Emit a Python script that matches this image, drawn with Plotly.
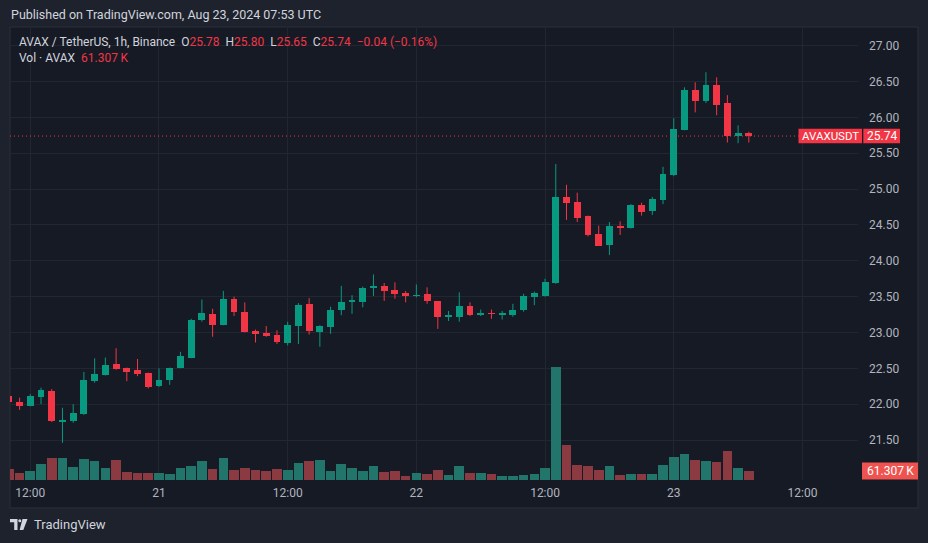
import pandas as pd
import plotly.graph_objects as go

# ---------------- data ----------------
times = pd.date_range("2024-08-20 10:00", periods=70, freq="h")

opens = [22.11, 22.03, 21.97, 22.10, 22.18, 21.76, 21.76, 21.86, 22.33, 22.41,
         22.56, 22.50, 22.47, 22.44, 22.25, 22.34, 22.51, 22.65, 23.18, 23.26,
         23.11, 23.47, 23.29, 23.02, 22.99, 22.96, 22.86, 23.09, 23.40, 23.01,
         23.08, 23.31, 23.43, 23.43, 23.62, 23.65, 23.59, 23.55, 23.51, 23.53,
         23.44, 23.22, 23.22, 23.37, 23.25, 23.27, 23.24, 23.25, 23.32, 23.50,
         23.51, 23.69, 24.89, 24.82, 24.62, 24.37, 24.22, 24.48, 24.46, 24.78,
         24.69, 24.85, 25.20, 25.83, 26.38, 26.23, 26.45, 26.20, 25.74, 25.78]
highs = [22.13, 22.09, 22.14, 22.23, 22.21, 21.95, 22.00, 22.45, 22.64, 22.65,
         22.78, 22.51, 22.63, 22.44, 22.50, 22.51, 22.73, 23.19, 23.46, 23.33,
         23.58, 23.50, 23.42, 23.04, 23.09, 23.03, 23.15, 23.41, 23.48, 23.10,
         23.36, 23.65, 23.52, 23.64, 23.81, 23.69, 23.70, 23.58, 23.67, 23.63,
         23.44, 23.30, 23.56, 23.42, 23.32, 23.32, 23.30, 23.40, 23.54, 23.57,
         23.75, 25.35, 25.06, 24.95, 24.63, 24.49, 24.54, 24.55, 24.79, 24.81,
         24.89, 25.31, 25.99, 26.42, 26.49, 26.63, 26.56, 26.31, 25.89, 25.80]
lows = [22.02, 21.92, 21.97, 22.00, 21.75, 21.46, 21.74, 21.85, 22.30, 22.40,
        22.48, 22.32, 22.39, 22.22, 22.24, 22.27, 22.50, 22.64, 23.15, 22.94,
        23.10, 23.23, 23.00, 22.86, 22.94, 22.84, 22.82, 22.84, 22.97, 22.80,
        22.98, 23.24, 23.26, 23.35, 23.51, 23.44, 23.47, 23.42, 23.49, 23.40,
        23.05, 23.16, 23.15, 23.23, 23.23, 23.19, 23.18, 23.22, 23.29, 23.38,
        23.50, 23.68, 24.57, 24.54, 24.34, 24.21, 24.08, 24.36, 24.45, 24.63,
        24.64, 24.79, 25.18, 25.82, 26.07, 26.20, 26.03, 25.65, 25.64, 25.65]
closes = [22.03, 21.97, 22.11, 22.20, 21.76, 21.77, 21.87, 22.34, 22.42, 22.55,
          22.49, 22.45, 22.42, 22.24, 22.34, 22.50, 22.67, 23.18, 23.27, 23.11,
          23.47, 23.29, 23.01, 22.98, 22.95, 22.87, 23.10, 23.38, 23.02, 23.09,
          23.32, 23.42, 23.45, 23.62, 23.65, 23.58, 23.53, 23.51, 23.52, 23.44,
          23.22, 23.23, 23.37, 23.25, 23.26, 23.26, 23.27, 23.32, 23.51, 23.55,
          23.70, 24.89, 24.81, 24.60, 24.36, 24.21, 24.49, 24.47, 24.78, 24.68,
          24.86, 25.21, 25.84, 26.38, 26.23, 26.45, 26.17, 25.74, 25.78, 25.74]
volumes_k = [73, 50, 61, 109, 150, 150, 89, 143, 129, 82,
             136, 54, 48, 48, 48, 41, 82, 95, 129, 75,
             150, 68, 82, 68, 61, 75, 68, 116, 129, 136,
             61, 109, 82, 61, 95, 54, 61, 27, 48, 41,
             68, 34, 95, 50, 50, 43, 29, 29, 36, 43,
             84, 770, 240, 104, 97, 70, 97, 36, 43, 43,
             43, 104, 159, 179, 138, 129, 123, 197, 82, 61.307]

price_ticks = [21.5, 22.0, 22.5, 23.0, 23.5, 24.0, 24.5, 25.0, 25.5, 26.0, 26.5, 27.0]
time_ticks = ["2024-08-20 12:00", "2024-08-21 00:00", "2024-08-21 12:00", "2024-08-22 00:00",
              "2024-08-22 12:00", "2024-08-23 00:00", "2024-08-23 12:00"]
time_tick_text = ["12:00", "21", "12:00", "22", "12:00", "23", "12:00"]

# ---------------- style ----------------
W, H = 928, 543
UP, DOWN = "#089981", "#f23645"
VOL_UP, VOL_DOWN = "#22756b", "#8b3a41"
TXT = "#d1d4dc"
AX_TXT = "#b2b5be"
GRID = "#222631"
PANE_BG = "#161a25"
PAGE_BG = "#1e222d"
FONT = "Roboto"
HOUR_MS = 3600 * 1000

def px(x):
    return x / W

def py(y):
    return 1 - y / H

fig = go.Figure()

vol_colors = [VOL_UP if c >= o else VOL_DOWN for o, c in zip(opens, closes)]
fig.add_trace(go.Bar(x=times, y=[v * 1000 for v in volumes_k], yaxis="y2",
                     marker=dict(color=vol_colors, line=dict(width=0)),
                     width=0.9 * HOUR_MS, hoverinfo="skip", showlegend=False))

for is_up, col in [(True, UP), (False, DOWN)]:
    idx = [i for i in range(len(times)) if (closes[i] >= opens[i]) == is_up]
    wx, wy = [], []
    for i in idx:
        wx += [times[i], times[i], None]
        wy += [lows[i], highs[i], None]
    fig.add_trace(go.Scatter(x=wx, y=wy, mode="lines", line=dict(color=col, width=1),
                             hoverinfo="skip", showlegend=False))
    body = []
    for i in idx:
        d = closes[i] - opens[i]
        if abs(d) < 0.012:
            d = 0.012 if d >= 0 else -0.012
        body.append(d)
    fig.add_trace(go.Bar(x=[times[i] for i in idx], y=body, base=[opens[i] for i in idx],
                         marker=dict(color=col, line=dict(width=0)),
                         width=0.64 * HOUR_MS, hoverinfo="skip", showlegend=False))

last_close = closes[-1]
last_vol = volumes_k[-1]

shapes = [
    dict(type="rect", xref="paper", yref="paper", x0=px(10), x1=px(918), y0=py(508), y1=py(27),
         fillcolor=PANE_BG, line=dict(color="#2a2e39", width=1), layer="below"),
    dict(type="line", xref="x domain", yref="y", x0=0, x1=1, y0=last_close, y1=last_close,
         line=dict(color=DOWN, width=1, dash="1px,3px")),
    dict(type="rect", xref="paper", yref="y", ysizemode="pixel", yanchor=last_close,
         x0=px(798.5), x1=px(862), y0=-7.3, y1=7.3, fillcolor=DOWN, line=dict(width=0)),
    dict(type="rect", xref="paper", yref="y", ysizemode="pixel", yanchor=last_close,
         x0=px(863.3), x1=px(900), y0=-7.3, y1=7.3, fillcolor=DOWN, line=dict(width=0)),
    dict(type="rect", xref="paper", yref="y2", ysizemode="pixel", yanchor=last_vol * 1000,
         x0=px(862), x1=px(918), y0=-8.5, y1=8.5, fillcolor="#ef5350", line=dict(width=0)),
    # TradingView logo
    dict(type="path", xref="paper", yref="paper",
         path=f"M {px(10)} {py(519)} L {px(17.5)} {py(519)} L {px(17.5)} {py(530)} L {px(14.2)} {py(530)} L {px(14.2)} {py(522.3)} L {px(10)} {py(522.3)} Z",
         fillcolor=TXT, line=dict(width=0)),
    dict(type="circle", xref="paper", yref="paper", x0=px(18.3), x1=px(21.3), y0=py(522.3), y1=py(519.3),
         fillcolor=TXT, line=dict(width=0)),
    dict(type="path", xref="paper", yref="paper",
         path=f"M {px(22.5)} {py(519)} L {px(27.5)} {py(519)} L {px(23.3)} {py(530)} L {px(19.6)} {py(530)} Z",
         fillcolor=TXT, line=dict(width=0)),
]

red = lambda s: f"<span style='color:{DOWN}'>{s}</span>"
sp = "&nbsp;"
legend1 = ("AVAX / TetherUS, 1h, Binance" + sp * 2 +
           "O" + red(f"{opens[-1]:.2f}") + sp * 2 + "H" + red(f"{highs[-1]:.2f}") + sp * 2 +
           "L" + red(f"{lows[-1]:.2f}") + sp * 2 + "C" + red(f"{closes[-1]:.2f}") + sp * 2 +
           red(f"−{abs(closes[-1]-opens[-1]):.2f} (−{abs(closes[-1]-opens[-1])/opens[-1]*100:.2f}%)"))
legend2 = "Vol · AVAX" + sp * 2 + red(f"{last_vol:.3f}" + "\u2009K")

annotations = [
    dict(text="Published on TradingView.com, Aug 23, 2024 07:53 UTC", xref="paper", yref="paper",
         x=px(9), y=py(14), xanchor="left", yanchor="middle", showarrow=False,
         font=dict(family=FONT, size=12.5, color=TXT)),
    dict(text=legend1, xref="paper", yref="paper", x=px(17), y=py(42), xanchor="left",
         yanchor="middle", showarrow=False, font=dict(family=FONT, size=12, color=TXT)),
    dict(text=legend2, xref="paper", yref="paper", x=px(17), y=py(58), xanchor="left",
         yanchor="middle", showarrow=False, font=dict(family=FONT, size=12, color=TXT)),
    dict(text="AVAXUSDT", xref="paper", yref="y", x=px(830.3), y=last_close, xanchor="center",
         yanchor="middle", showarrow=False, font=dict(family=FONT, size=11.5, color="#ffffff")),
    dict(text=f"{last_close:.2f}", xref="paper", yref="y", x=px(881.7), y=last_close,
         xanchor="center", yanchor="middle", showarrow=False,
         font=dict(family=FONT, size=12, color="#ffffff")),
    dict(text=f"{last_vol:.3f}\u2009K", xref="paper", yref="y2", x=px(890), y=last_vol * 1000,
         xanchor="center", yanchor="middle", showarrow=False,
         font=dict(family=FONT, size=12, color="#ffffff")),
    dict(text="TradingView", xref="paper", yref="paper", x=px(32), y=py(524.5), xanchor="left",
         yanchor="middle", showarrow=False, font=dict(family=FONT, size=13, color=TXT)),
]

pane_top, pane_bot = 28, 480
fig.update_layout(
    width=W, height=H, margin=dict(l=0, r=0, t=0, b=0),
    paper_bgcolor=PAGE_BG, plot_bgcolor="rgba(0,0,0,0)",
    barmode="overlay", bargap=0, showlegend=False,
    shapes=shapes, annotations=annotations,
    xaxis=dict(type="date", domain=[px(10), px(858)],
               range=["2024-08-20 10:06:25", "2024-08-23 17:10:48"],
               tickvals=time_ticks, ticktext=time_tick_text, ticks="",
               showgrid=True, gridcolor=GRID, gridwidth=1, zeroline=False, showline=False,
               tickfont=dict(family=FONT, size=12, color=AX_TXT), ticklabelstandoff=4,
               fixedrange=True),
    yaxis=dict(domain=[py(pane_bot), py(pane_top)], range=[20.942, 27.247], side="right",
               tickvals=price_ticks, ticktext=[f"{v:.2f}" for v in price_ticks], ticks="",
               showgrid=True, gridcolor=GRID, gridwidth=1, zeroline=False, showline=False,
               tickfont=dict(family=FONT, size=12, color=AX_TXT), ticklabelstandoff=10,
               fixedrange=True),
    yaxis2=dict(overlaying="y", range=[0, 3.079e6], visible=False, fixedrange=True),
)

fig.write_html("out.html")
